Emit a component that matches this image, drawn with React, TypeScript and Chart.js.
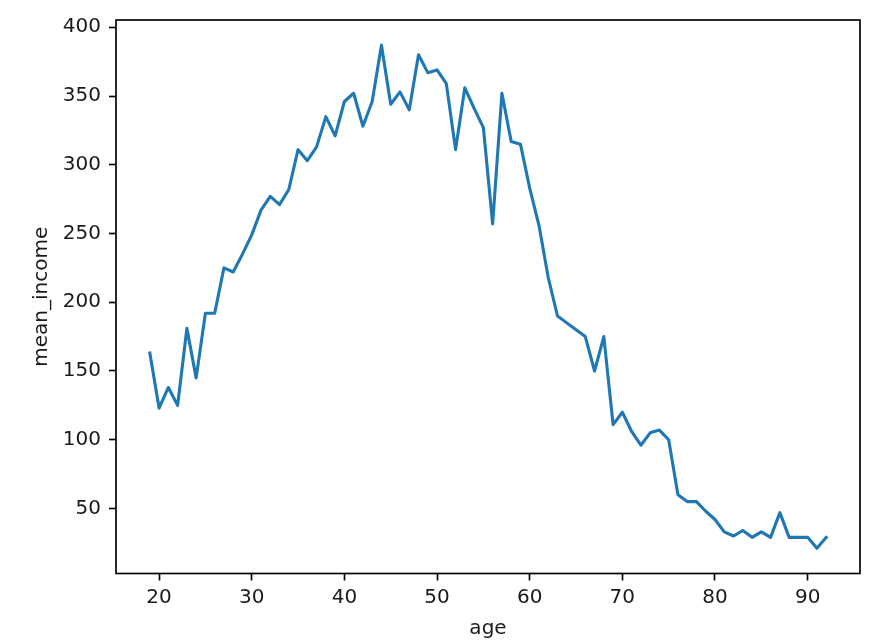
import React, { useEffect, useRef } from "react";
import { Chart, registerables } from "chart.js";

Chart.register(...registerables);

const ages: number[] = [
  19, 20, 21, 22, 23, 24, 25, 26, 27, 28, 29, 30, 31, 32, 33, 34, 35, 36, 37, 38,
  39, 40, 41, 42, 43, 44, 45, 46, 47, 48, 49, 50, 51, 52, 53, 54, 55, 56, 57, 58,
  59, 60, 61, 62, 63, 64, 65, 66, 67, 68, 69, 70, 71, 72, 73, 74, 75, 76, 77, 78,
  79, 80, 81, 82, 83, 84, 85, 86, 87, 88, 89, 90, 91, 92,
];

const meanIncome: number[] = [
  163, 123, 138, 125, 181, 145, 192, 192, 225, 222, 235, 249, 267, 277, 271, 282, 311, 303, 313, 335,
  321, 346, 352, 328, 346, 387, 344, 353, 340, 380, 367, 369, 359, 311, 356, 341, 327, 257, 352, 317,
  315, 283, 256, 218, 190, 185, 180, 175, 150, 175, 111, 120, 106, 96, 105, 107, 100, 60, 55, 55,
  48, 42, 33, 30, 34, 29, 33, 29, 47, 29, 29, 29, 21, 29,
];

const xTicks: number[] = [20, 30, 40, 50, 60, 70, 80, 90];
const yTicks: number[] = [50, 100, 150, 200, 250, 300, 350, 400];

const xLabel = "age";
const yLabel = "mean_income";

const FONT = "'DejaVu Sans', sans-serif";
const TEXT = "#1a1a1a";

const frame = {
  id: "frame",
  afterDatasetsDraw(chart: any) {
    const { ctx, chartArea } = chart;
    ctx.save();
    ctx.strokeStyle = "#000";
    ctx.lineWidth = 1.67;
    ctx.strokeRect(chartArea.left, chartArea.top, chartArea.right - chartArea.left, chartArea.bottom - chartArea.top);
    ctx.restore();
  },
};

export default function App() {
  const ref = useRef<HTMLCanvasElement | null>(null);
  useEffect(() => {
    if (!ref.current) return;
    const chart = new Chart(ref.current, {
      type: "line",
      data: {
        datasets: [
          {
            label: yLabel,
            data: ages.map((a, i) => ({ x: a, y: meanIncome[i] })),
            borderColor: "#1f77b4",
            borderWidth: 3.1,
            borderJoinStyle: "round",
            borderCapStyle: "square",
            pointRadius: 0,
            tension: 0,
            fill: false,
          },
        ],
      },
      options: {
        animation: false,
        responsive: false,
        devicePixelRatio: 1,
        layout: { padding: { top: 19, right: 17, left: 0, bottom: 0 } },
        plugins: { legend: { display: false }, tooltip: { enabled: false } },
        scales: {
          x: {
            type: "linear",
            min: 15.35,
            max: 95.65,
            afterBuildTicks: (s: any) => {
              s.ticks = xTicks.map((v) => ({ value: v }));
            },
            afterFit: (s: any) => {
              s.height = 70.5;
            },
            border: { display: false },
            grid: {
              drawOnChartArea: false,
              drawTicks: true,
              tickLength: 7,
              tickWidth: 1.67,
              tickColor: "#000",
            },
            ticks: {
              autoSkip: false,
              maxRotation: 0,
              padding: 5,
              color: TEXT,
              font: { family: FONT, size: 20 },
            },
            title: {
              display: true,
              text: xLabel,
              color: TEXT,
              font: { family: FONT, size: 20 },
              padding: { top: 0, bottom: 3 },
            },
          },
          y: {
            type: "linear",
            min: 2.7,
            max: 405.3,
            afterBuildTicks: (s: any) => {
              s.ticks = yTicks.map((v) => ({ value: v }));
            },
            afterFit: (s: any) => {
              s.width = 116;
            },
            border: { display: false },
            grid: {
              drawOnChartArea: false,
              drawTicks: true,
              tickLength: 7,
              tickWidth: 1.67,
              tickColor: "#000",
            },
            ticks: {
              autoSkip: false,
              padding: 8,
              color: TEXT,
              font: { family: FONT, size: 20 },
            },
            title: {
              display: true,
              text: yLabel,
              color: TEXT,
              font: { family: FONT, size: 20 },
              padding: { top: 30, bottom: 0 },
            },
          },
        },
      },
      plugins: [frame],
    });
    return () => chart.destroy();
  }, []);
  return (
    <div style={{ position: "absolute", left: 0, top: 0, width: 877, height: 644, background: "#fff" }}>
      <canvas ref={ref} width={877} height={644} style={{ width: 877, height: 644, display: "block" }} />
    </div>
  );
}
